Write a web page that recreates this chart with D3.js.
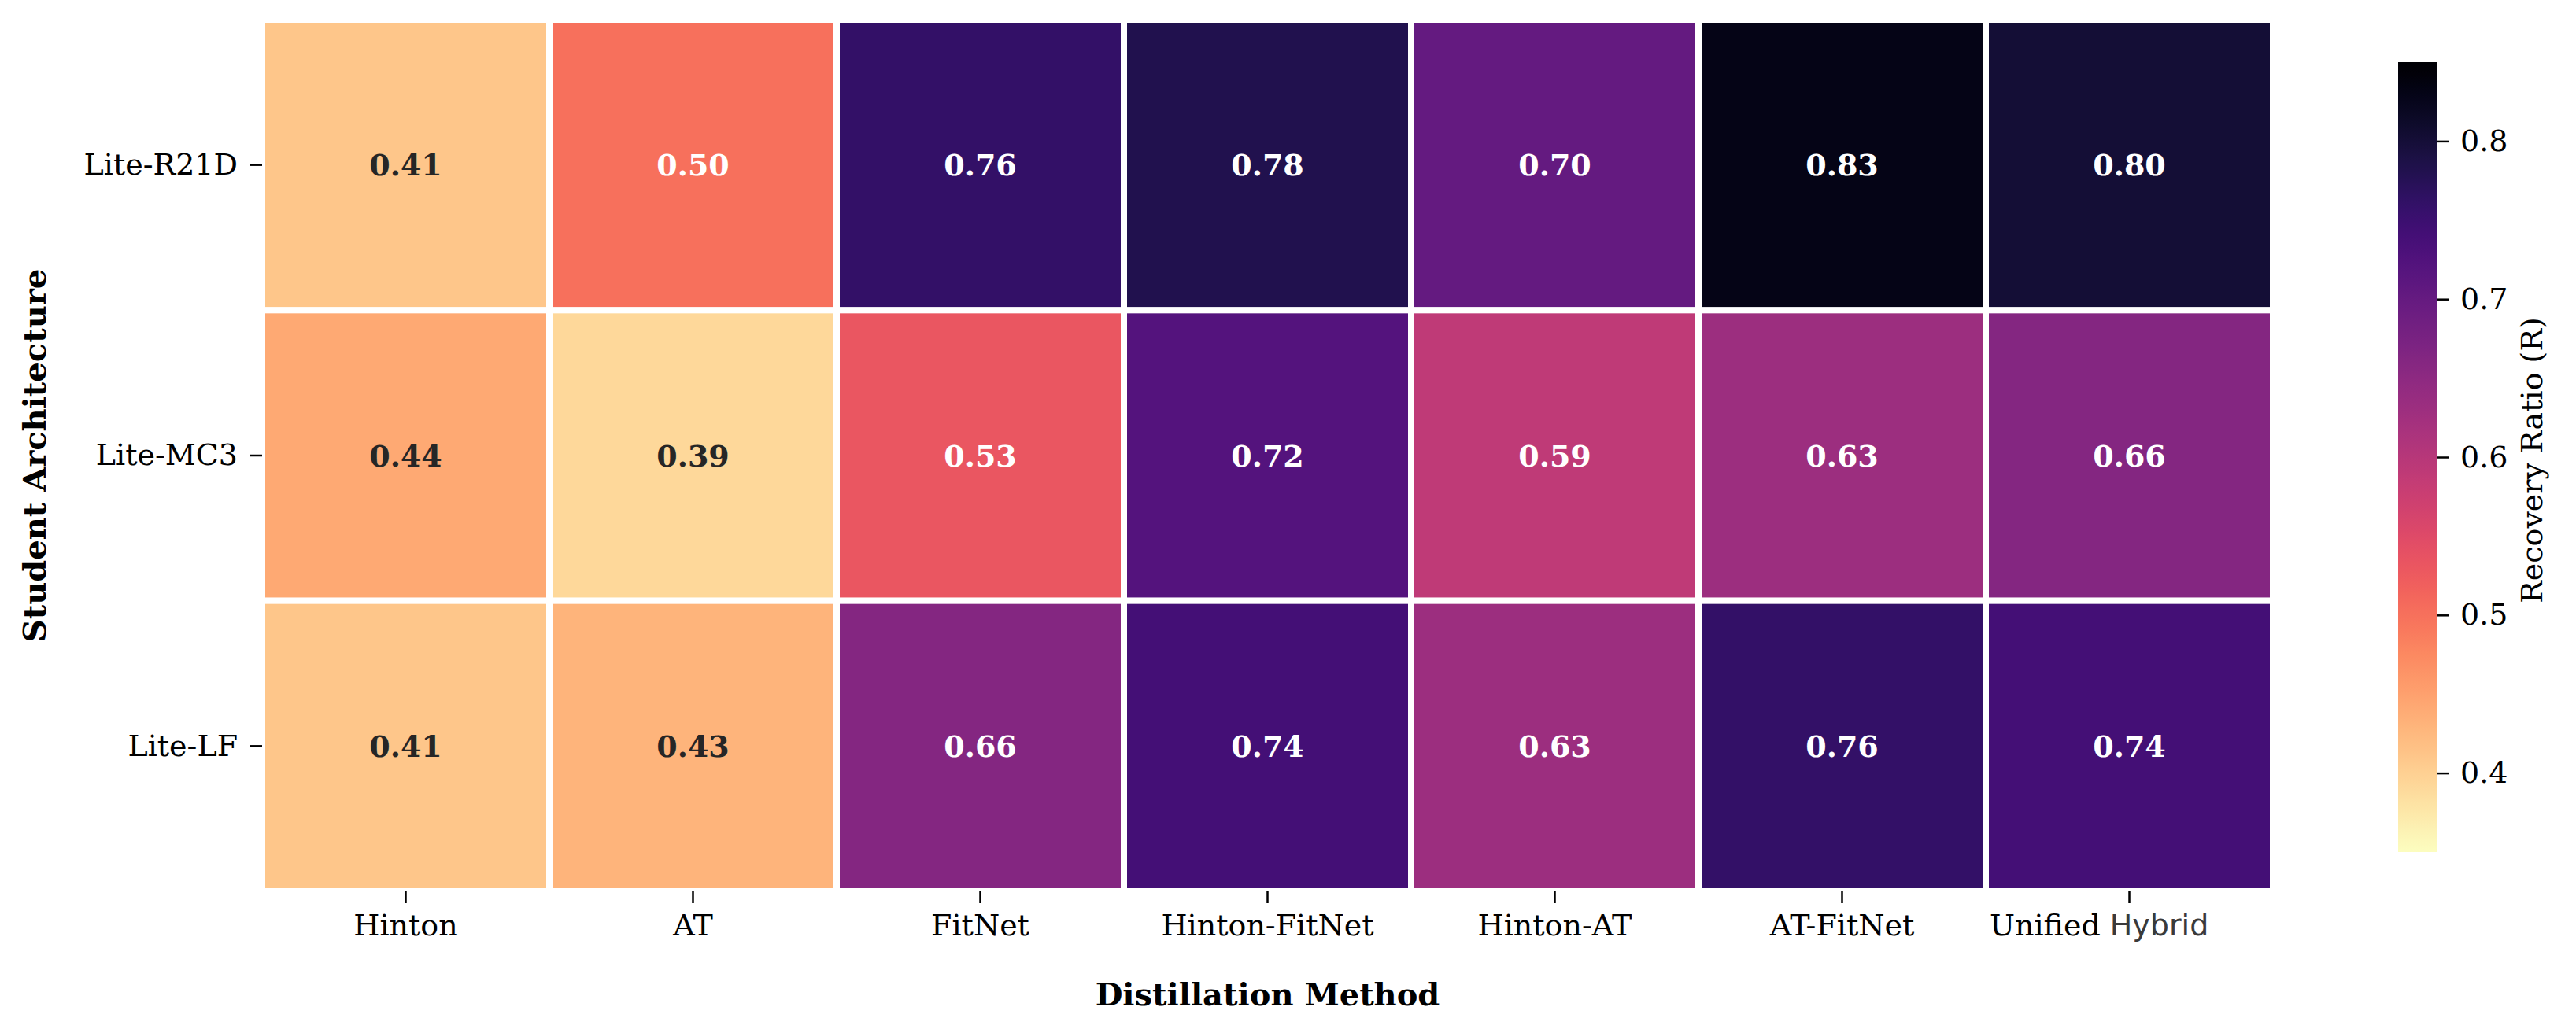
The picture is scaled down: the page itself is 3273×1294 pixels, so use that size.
<!DOCTYPE html>
<html>
<head>
<meta charset="utf-8">
<script src="https://cdn.jsdelivr.net/npm/d3@7"></script>
<style>
  body { margin: 0; background: #fff; }
  text { font-family: "DejaVu Serif", serif; }
</style>
</head>
<body>
<div id="container"></div>
<script>
/**
 * DATA
 * */
const methods = ["Hinton", "AT", "FitNet", "Hinton-FitNet", "Hinton-AT", "AT-FitNet", "Unified Hybrid"];
const students = ["Lite-R21D", "Lite-MC3", "Lite-LF"];
const r21dValues = [0.41, 0.50, 0.76, 0.78, 0.70, 0.83, 0.80];
const mc3Values  = [0.44, 0.39, 0.53, 0.72, 0.59, 0.63, 0.66];
const lfValues   = [0.41, 0.43, 0.66, 0.74, 0.63, 0.76, 0.74];
const colorTicks = [0.4, 0.5, 0.6, 0.7, 0.8];
const colorDomain = [0.35, 0.85];

const rows = [r21dValues, mc3Values, lfValues];
const cells = [];
rows.forEach((vals, i) => vals.forEach((v, j) => cells.push({ student: students[i], method: methods[j], value: v })));

/**
 * CONSTANTS
 * */
const width = 3273, height = 1294;
const grid = { left: 333, right: 2888, top: 25, bottom: 1133 };
const cbar = { left: 3047, right: 3096, top: 79, bottom: 1083 };
const fontSize = 38;

const svg = d3.select("#container")
    .append("svg")
    .attr("width", width)
    .attr("height", height);

const x = d3.scaleBand().domain(methods).range([grid.left, grid.right]).padding(0);
const y = d3.scaleBand().domain(students).range([grid.top, grid.bottom]).padding(0);

// magma_r
const color = d3.scaleSequential(t => d3.interpolateMagma(1 - t)).domain(colorDomain);

// seaborn style text colour choice
function luminance(c) {
    const rgb = d3.rgb(c);
    const lin = [rgb.r, rgb.g, rgb.b].map(v => {
        v = v / 255;
        return v <= 0.03928 ? v / 12.92 : Math.pow((v + 0.055) / 1.055, 2.4);
    });
    return 0.2126 * lin[0] + 0.7152 * lin[1] + 0.0722 * lin[2];
}

// cells
svg.append("g")
    .selectAll("rect")
    .data(cells)
    .join("rect")
    .attr("x", d => x(d.method))
    .attr("y", d => y(d.student))
    .attr("width", x.bandwidth())
    .attr("height", y.bandwidth())
    .attr("fill", d => color(d.value))
    .attr("stroke", "#fff")
    .attr("stroke-width", 8);

// annotations
svg.append("g")
    .selectAll("text")
    .data(cells)
    .join("text")
    .attr("x", d => x(d.method) + x.bandwidth() / 2)
    .attr("y", d => y(d.student) + y.bandwidth() / 2)
    .attr("dy", "0.36em")
    .attr("text-anchor", "middle")
    .attr("font-size", fontSize)
    .attr("font-weight", "bold")
    .attr("fill", d => luminance(color(d.value)) > 0.408 ? "#262626" : "#fff")
    .text(d => d.value.toFixed(2));

// x axis
const xAxis = svg.append("g")
    .attr("transform", `translate(0,${grid.bottom})`)
    .call(d3.axisBottom(x).tickSize(15).tickPadding(14));
xAxis.select(".domain").remove();
xAxis.selectAll("line").attr("stroke", "#000").attr("stroke-width", 2.5);
xAxis.selectAll("text")
    .attr("font-family", "DejaVu Serif")
    .attr("font-size", fontSize)
    .attr("fill", "#000");

// "Hybrid" falls back to a sans glyph in the reference and the label sits left of its tick
xAxis.selectAll(".tick text").each(function(d) {
    if (d.indexOf("Hybrid") < 0) return;
    const t = d3.select(this);
    const full = this.getComputedTextLength();
    const parts = d.split(" ");
    t.text(null).attr("text-anchor", "start").attr("x", -full * 0.62);
    t.append("tspan").text(parts[0] + " ");
    t.append("tspan").attr("font-family", "DejaVu Sans").attr("fill", "#3a3a3a").text(parts.slice(1).join(" "));
});

// y axis
const yAxis = svg.append("g")
    .attr("transform", `translate(${grid.left},0)`)
    .call(d3.axisLeft(y).tickSize(15).tickPadding(16));
yAxis.select(".domain").remove();
yAxis.selectAll("line").attr("stroke", "#000").attr("stroke-width", 2.5);
yAxis.selectAll("text")
    .attr("font-family", "DejaVu Serif")
    .attr("font-size", fontSize)
    .attr("fill", "#000");

// axis titles
svg.append("text")
    .attr("x", (grid.left + grid.right) / 2)
    .attr("y", 1278)
    .attr("text-anchor", "middle")
    .attr("font-family", "DejaVu Serif")
    .attr("font-size", 40)
    .attr("font-weight", "bold")
    .text("Distillation Method");

svg.append("text")
    .attr("transform", `translate(58,${(grid.top + grid.bottom) / 2}) rotate(-90)`)
    .attr("text-anchor", "middle")
    .attr("font-family", "DejaVu Serif")
    .attr("font-size", 40)
    .attr("font-weight", "bold")
    .text("Student Architecture");

// colorbar
const defs = svg.append("defs");
const grad = defs.append("linearGradient")
    .attr("id", "cbar-grad")
    .attr("x1", 0).attr("y1", 1).attr("x2", 0).attr("y2", 0);
d3.range(0, 1.0001, 1 / 64).forEach(t => {
    grad.append("stop")
        .attr("offset", t)
        .attr("stop-color", color(colorDomain[0] + t * (colorDomain[1] - colorDomain[0])));
});

svg.append("rect")
    .attr("x", cbar.left)
    .attr("y", cbar.top)
    .attr("width", cbar.right - cbar.left)
    .attr("height", cbar.bottom - cbar.top)
    .attr("fill", "url(#cbar-grad)");

const cScale = d3.scaleLinear().domain(colorDomain).range([cbar.bottom, cbar.top]);
const cAxis = svg.append("g")
    .attr("transform", `translate(${cbar.right},0)`)
    .call(d3.axisRight(cScale).tickValues(colorTicks).tickFormat(d3.format(".1f")).tickSize(16).tickPadding(14));
cAxis.select(".domain").remove();
cAxis.selectAll("line").attr("stroke", "#000").attr("stroke-width", 2.5);
cAxis.selectAll("text")
    .attr("font-family", "DejaVu Serif")
    .attr("font-size", fontSize)
    .attr("fill", "#000");

svg.append("text")
    .attr("transform", `translate(3230,585) rotate(-90)`)
    .attr("text-anchor", "middle")
    .attr("font-family", "DejaVu Serif")
    .attr("font-size", fontSize)
    .text("Recovery Ratio (R)");
</script>
</body>
</html>
